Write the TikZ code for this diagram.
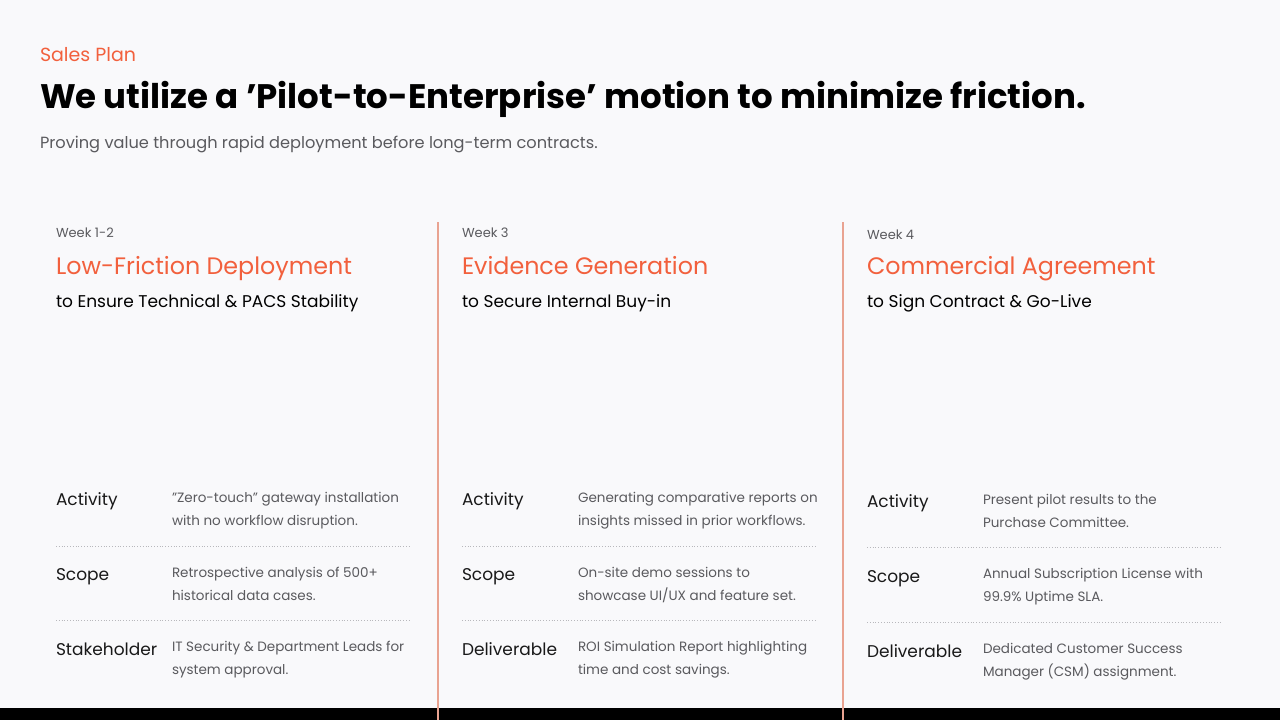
\documentclass[tikz,border=0pt]{standalone}
\usepackage{fontspec}
\setmainfont{Poppins}
\usetikzlibrary{positioning}

\definecolor{accent}{HTML}{F2603D}
\definecolor{divider}{HTML}{E9A391}
\definecolor{pagebg}{HTML}{F9F9FB}
\definecolor{bodygray}{HTML}{5A5A5E}
\definecolor{dotgray}{HTML}{B8B8BC}

\newcommand{\sq}{{\char"27}}
\newcommand{\dq}{{\char"22}}

\tikzset{
	txt/.style={anchor=base west, inner sep=0pt, outer sep=0pt},
	weektxt/.style={txt, text=bodygray, font=\fontsize{13}{16}\selectfont},
	phasetxt/.style={txt, text=accent, font=\fontsize{23.8}{28}\selectfont},
	goaltxt/.style={txt, text=black, font=\fontsize{17}{20}\selectfont},
	labtxt/.style={txt, text=black!90, font=\fontsize{17}{20}\selectfont},
	% multi-line: base anchor sits on the last line
	desctxt/.style={txt, text=bodygray, align=left, font=\fontsize{13.5}{23}\selectfont},
	rowline/.style={draw=dotgray, dotted, line width=0.8pt},
	colline/.style={draw=divider, line width=1.5pt}
}

\begin{document}
\begin{tikzpicture}[x=1pt, y=-1pt]
	% Background and frame
	\fill[pagebg] (0,0) rectangle (1280,720);
	\useasboundingbox (0,0) rectangle (1280,720);

	% Header
	\node[txt, text=accent, font=\fontsize{19}{22}\selectfont] (salesplan) at (40,61) {Sales Plan};
	\node[txt, font=\fontsize{34}{40}\selectfont\bfseries] (headline) at (40,108) {We utilize a \sq Pilot-to-Enterprise\sq{} motion to minimize friction.};
	\node[txt, text=bodygray, font=\fontsize{16.2}{20}\selectfont] (subline) at (40,148) {Proving value through rapid deployment before long-term contracts.};

	% Column dividers
	\draw[colline] (438,222) -- (438,720);
	\draw[colline] (843,222) -- (843,720);

	% Column 1
	\node[weektxt] (week1) at (56,237) {Week 1-2};
	\node[phasetxt] (phase1) at (56,274) {Low-Friction Deployment};
	\node[goaltxt] (goal1) at (56,307) {to Ensure Technical \& PACS Stability};
	\node[labtxt] (act1) at (56,505) {Activity};
	\node[desctxt] (act1d) at (172,525) {\dq Zero-touch\dq{} gateway installation\\with no workflow disruption.};
	\draw[rowline] (56,546) -- (410,546);
	\node[labtxt] (scope1) at (56,580) {Scope};
	\node[desctxt] (scope1d) at (172,600) {Retrospective analysis of 500+\\historical data cases.};
	\draw[rowline] (56,620) -- (410,620);
	\node[labtxt] (stake1) at (56,655) {Stakeholder};
	\node[desctxt] (stake1d) at (172,674) {IT Security \& Department Leads for\\system approval.};

	% Column 2
	\node[weektxt] (week2) at (462,237) {Week 3};
	\node[phasetxt] (phase2) at (462,274) {Evidence Generation};
	\node[goaltxt] (goal2) at (462,307) {to Secure Internal Buy-in};
	\node[labtxt] (act2) at (462,505) {Activity};
	\node[desctxt] (act2d) at (578,525) {Generating comparative reports on\\insights missed in prior workflows.};
	\draw[rowline] (462,546) -- (817,546);
	\node[labtxt] (scope2) at (462,580) {Scope};
	\node[desctxt] (scope2d) at (578,600) {On-site demo sessions to\\showcase UI/UX and feature set.};
	\draw[rowline] (462,620) -- (817,620);
	\node[labtxt] (deliv2) at (462,655) {Deliverable};
	\node[desctxt] (deliv2d) at (578,674) {ROI Simulation Report highlighting\\time and cost savings.};

	% Column 3
	\node[weektxt] (week3) at (867,239) {Week 4};
	\node[phasetxt] (phase3) at (867,274) {Commercial Agreement};
	\node[goaltxt] (goal3) at (867,307) {to Sign Contract \& Go-Live};
	\node[labtxt] (act3) at (867,507) {Activity};
	\node[desctxt] (act3d) at (983,527) {Present pilot results to the\\Purchase Committee.};
	\draw[rowline] (867,547) -- (1222,547);
	\node[labtxt] (scope3) at (867,582) {Scope};
	\node[desctxt] (scope3d) at (983,601) {Annual Subscription License with\\99.9\% Uptime SLA.};
	\draw[rowline] (867,622) -- (1222,622);
	\node[labtxt] (deliv3) at (867,657) {Deliverable};
	\node[desctxt] (deliv3d) at (983,676) {Dedicated Customer Success\\Manager (CSM) assignment.};

	% Bottom bar
	\fill[black] (0,708) rectangle (1280,720);
	\draw[colline] (438,708) -- (438,720);
	\draw[colline] (843,708) -- (843,720);
\end{tikzpicture}
\end{document}
